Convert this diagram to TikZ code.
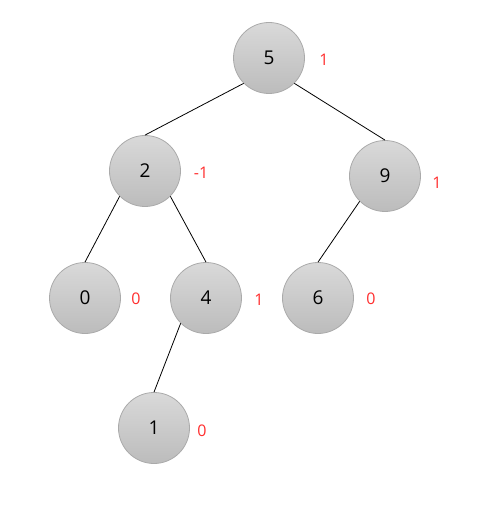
\documentclass[tikz,border=0pt]{standalone}
\usepackage{fontspec}
\setmainfont{Open Sans}
\begin{document}
\begin{tikzpicture}[x=1pt,y=-1pt,
  tnode/.style={circle,minimum size=71pt,inner sep=0pt,draw={rgb,255:red,170;green,170;blue,170},line width=0.8pt,
    top color={rgb,255:red,217;green,217;blue,217},bottom color={rgb,255:red,188;green,188;blue,188},
    font=\fontsize{19}{22}\selectfont,text=black},
  bal/.style={text={rgb,255:red,255;green,45;blue,45},font=\fontsize{16}{19}\selectfont,inner sep=0pt},
  edge/.style={draw=black,line width=0.8pt}]
\useasboundingbox (0,0) rectangle (491,521);
\node[tnode] (n5) at (269,58) {5};
\node[tnode] (n2) at (145,171) {2};
\node[tnode] (n9) at (385,176) {9};
\node[tnode] (n0) at (85,298) {0};
\node[tnode] (n4) at (206,298) {4};
\node[tnode] (n6) at (318,298) {6};
\node[tnode] (n1) at (154,428) {1};
\node[bal] (b5) at (324,60) {1};
\node[bal] (b2) at (201,173) {-1};
\node[bal] (b9) at (437,183) {1};
\node[bal] (b0) at (136,299) {0};
\node[bal] (b4) at (259,300) {1};
\node[bal] (b6) at (371,299) {0};
\node[bal] (b1) at (202,431) {0};
\draw[edge] (n5.south west) -- (n2.north);
\draw[edge] (n5.south east) -- (n9.north);
\draw[edge] (n2.south west) -- (n0.north);
\draw[edge] (n2.south east) -- (n4.north);
\draw[edge] (n9.south west) -- (n6.north);
\draw[edge] (n4.south west) -- (n1.north);
\end{tikzpicture}
\end{document}
